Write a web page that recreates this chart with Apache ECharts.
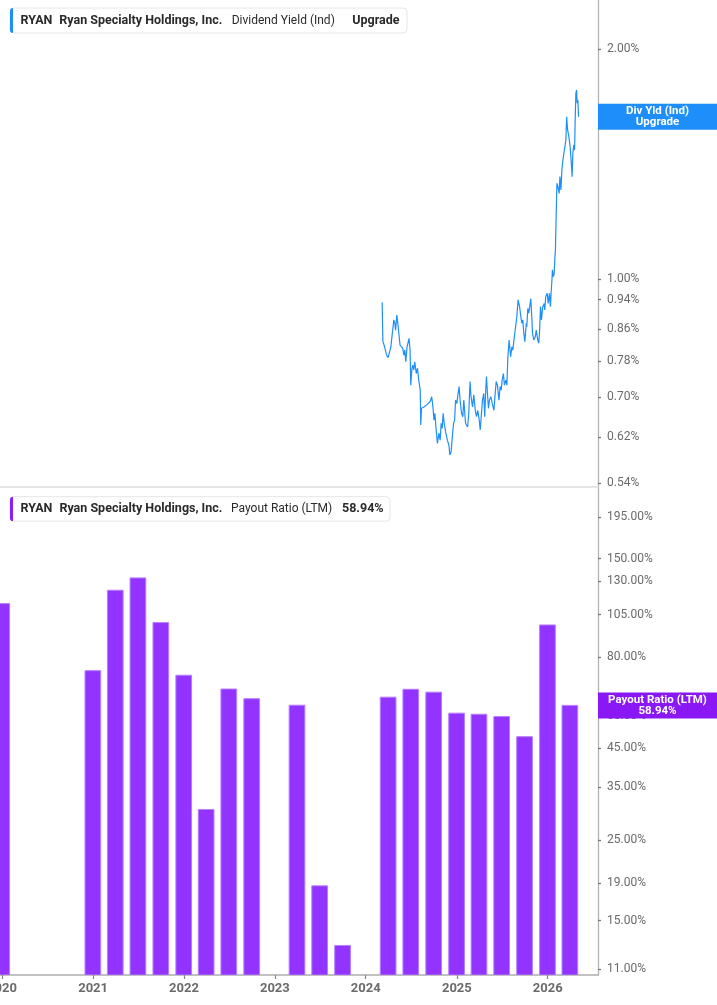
<!DOCTYPE html>
<html><head><meta charset="utf-8">
<script src="https://cdn.jsdelivr.net/npm/echarts@6/dist/echarts.min.js"></script>
<style>html,body{margin:0;padding:0;background:#fff}#c{width:717px;height:1005px}</style>
</head><body><div id="c"></div>
<script>
// ---- Data ----
const yieldDates = ['2024-03-07','2024-03-10','2024-03-15','2024-03-20','2024-03-25','2024-03-31','2024-04-05','2024-04-11','2024-04-16','2024-04-23','2024-04-27','2024-04-30','2024-05-05','2024-05-09','2024-05-13','2024-05-18','2024-05-24','2024-05-29','2024-06-02','2024-06-06','2024-06-10','2024-06-15','2024-06-23','2024-06-27','2024-06-30','2024-07-04','2024-07-08','2024-07-12','2024-07-16','2024-07-22','2024-07-27','2024-08-01','2024-08-07','2024-08-09','2024-08-12','2024-08-17','2024-08-23','2024-08-28','2024-09-02','2024-09-09','2024-09-16','2024-09-22','2024-09-27','2024-10-01','2024-10-05','2024-10-09','2024-10-15','2024-10-21','2024-10-26','2024-10-30','2024-11-03','2024-11-07','2024-11-12','2024-11-18','2024-11-24','2024-11-30','2024-12-04','2024-12-09','2024-12-15','2024-12-19','2024-12-23','2024-12-27','2025-01-01','2025-01-06','2025-01-10','2025-01-14','2025-01-20','2025-01-25','2025-01-29','2025-02-05','2025-02-13','2025-02-18','2025-02-21','2025-02-23','2025-02-27','2025-03-05','2025-03-10','2025-03-16','2025-03-21','2025-03-26','2025-04-01','2025-04-05','2025-04-10','2025-04-14','2025-04-19','2025-04-23','2025-04-27','2025-04-30','2025-05-04','2025-05-08','2025-05-12','2025-05-18','2025-05-23','2025-05-30','2025-06-03','2025-06-08','2025-06-13','2025-06-19','2025-06-24','2025-06-28','2025-07-02','2025-07-07','2025-07-11','2025-07-17','2025-07-21','2025-07-25','2025-07-30','2025-08-05','2025-08-10','2025-08-14','2025-08-19','2025-08-25','2025-08-30','2025-09-04','2025-09-10','2025-09-15','2025-09-19','2025-09-23','2025-09-27','2025-10-01','2025-10-07','2025-10-09','2025-10-13','2025-10-17','2025-10-25','2025-10-29','2025-11-01','2025-11-06','2025-11-12','2025-11-16','2025-11-22','2025-11-26','2025-11-29','2025-12-03','2025-12-07','2025-12-12','2025-12-18','2025-12-20','2025-12-24','2025-12-30','2026-01-03','2026-01-08','2026-01-12','2026-01-15','2026-01-18','2026-01-20','2026-01-24','2026-01-27','2026-01-30','2026-02-01','2026-02-05','2026-02-07','2026-02-11','2026-02-16','2026-02-19','2026-02-23','2026-02-27','2026-03-03','2026-03-07','2026-03-11','2026-03-15','2026-03-18','2026-03-22','2026-03-27','2026-04-01','2026-04-05','2026-04-09','2026-04-12','2026-04-16','2026-04-19','2026-04-21','2026-04-24','2026-04-27','2026-04-29','2026-05-02','2026-05-05'];
const yieldValues = [0.932,0.828,0.819,0.815,0.795,0.789,0.793,0.815,0.844,0.884,0.875,0.857,0.897,0.875,0.849,0.819,0.815,0.811,0.795,0.807,0.779,0.815,0.836,0.807,0.726,0.760,0.771,0.760,0.779,0.752,0.764,0.737,0.715,0.644,0.677,0.673,0.680,0.680,0.684,0.687,0.691,0.701,0.680,0.653,0.667,0.640,0.609,0.628,0.615,0.647,0.637,0.667,0.644,0.628,0.615,0.606,0.588,0.594,0.628,0.647,0.653,0.694,0.687,0.708,0.723,0.694,0.667,0.660,0.694,0.647,0.640,0.667,0.708,0.734,0.701,0.680,0.705,0.673,0.660,0.673,0.653,0.634,0.667,0.694,0.708,0.660,0.715,0.745,0.708,0.677,0.694,0.701,0.687,0.673,0.701,0.734,0.726,0.694,0.723,0.715,0.737,0.752,0.726,0.737,0.726,0.791,0.832,0.791,0.815,0.807,0.836,0.866,0.893,0.939,0.920,0.893,0.875,0.884,0.849,0.828,0.875,0.866,0.915,0.902,0.943,0.893,0.849,0.832,0.840,0.857,0.832,0.824,0.849,0.920,0.884,0.920,0.929,0.911,0.948,0.958,0.929,0.958,0.920,0.963,0.997,1.028,1.007,1.017,1.070,1.091,1.257,1.335,1.321,1.295,1.362,1.308,1.390,1.432,1.439,1.491,1.521,1.632,1.568,1.537,1.491,1.432,1.362,1.461,1.499,1.476,1.600,1.751,1.769,1.700,1.717,1.632];

const payoutDates = ['2019-12-31','2020-12-31','2021-03-31','2021-06-30','2021-09-30','2021-12-31','2022-03-31','2022-06-30','2022-09-30','2023-03-31','2023-06-30','2023-09-30','2024-03-31','2024-06-30','2024-09-30','2024-12-31','2025-03-31','2025-06-30','2025-09-30','2025-12-31','2026-03-31'];
const payoutValues = [112.6,73.5,122.6,132.6,99.8,71.4,30.4,65.4,61.5,59.0,18.7,12.8,62.1,65.3,64.1,56.1,55.7,54.9,48.3,98.3,58.94];

const yieldTicks = [0.54,0.62,0.70,0.78,0.86,0.94,1.00,2.00];
const payoutTicks = [11,15,19,25,35,45,55,80,105,130,150,195];
const yearTicks = ['2020-01-01','2021-01-01','2022-01-01','2023-01-01','2024-01-01','2025-01-01','2026-01-01'];

const headerTop = ['RYAN','Ryan Specialty Holdings, Inc.','Dividend Yield (Ind)','Upgrade'];
const headerBottom = ['RYAN','Ryan Specialty Holdings, Inc.','Payout Ratio (LTM)','58.94%'];

// ---- Chart ----
const BLUE = '#1e8ffa', PURPLE = '#9333ff', PURPLE_TAG = '#8a18f5';
const toTs = s => { const p = s.split('-').map(Number); return Date.UTC(p[0], p[1]-1, p[2]); };
const yearTs = yearTicks.map(toTs);
const xMin = toTs('2019-12-24'), xMax = toTs('2026-07-22');
const axisFont = 'Roboto';
const BAR_W = 15.7;

function yAxisCfg(grid, min, max, ticks) {
  return {
    type: 'log', logBase: 10, gridIndex: grid, position: 'right', min: min, max: max,
    axisLine: {show: true, onZero: false, lineStyle: {color: '#b3b3b3', width: 1.3}},
    axisTick: {show: true, length: 3, customValues: ticks, lineStyle: {color: '#777', width: 1.3}},
    axisLabel: {show: true, customValues: ticks, margin: 9, color: '#6a6a6a', fontFamily: axisFont, fontSize: 12,
      formatter: v => Number(v).toFixed(2) + '%'},
    splitLine: {show: false}
  };
}

function xAxisCfg(grid, main) {
  return {
    type: 'value', gridIndex: grid, min: xMin, max: xMax, scale: true,
    axisLine: {show: true, onZero: false, lineStyle: main ? {color: '#adadad', width: 1.5} : {color: '#dedede', width: 1.5}},
    axisTick: {show: main, length: 4, customValues: yearTs, lineStyle: {color: '#888', width: 1.2}},
    axisLabel: {show: main, customValues: yearTs, margin: 7, align: 'center', color: '#6b6b6b', fontFamily: axisFont, fontSize: 13, fontWeight: 'bold',
      formatter: v => String(new Date(v).getUTCFullYear())},
    splitLine: {show: false}
  };
}

const option = {
  animation: false,
  backgroundColor: '#fff',
  grid: [
    {left: 0, right: 119, top: 0, height: 487, containLabel: false, outerBoundsMode: 'none'},
    {left: 0, right: 119, top: 487, height: 488, containLabel: false, outerBoundsMode: 'none'}
  ],
  xAxis: [xAxisCfg(0, false), xAxisCfg(1, true)],
  yAxis: [
    yAxisCfg(0, 0.5339, 2.321, yieldTicks),
    yAxisCfg(1, 10.608, 236.4, payoutTicks)
  ],
  series: [
    {type: 'line', xAxisIndex: 0, yAxisIndex: 0, showSymbol: false, symbol: 'none',
     lineStyle: {color: BLUE, width: 1.2}, itemStyle: {color: BLUE},
     data: yieldDates.map((d, i) => [toTs(d), yieldValues[i]])},
    {type: 'custom', xAxisIndex: 1, yAxisIndex: 1, clip: true,
     encode: {x: 0, y: 1},
     renderItem: function (params, api) {
       const top = api.coord([api.value(0), api.value(1)]);
       const cs = params.coordSys;
       const bottom = cs.y + cs.height;
       return {type: 'rect',
         shape: {x: top[0] - BAR_W / 2, y: top[1], width: BAR_W, height: bottom - top[1]},
         style: {fill: PURPLE, stroke: '#b47fff', lineWidth: 1}};
     },
     data: payoutDates.map((d, i) => [toTs(d), payoutValues[i]])}
  ]
};

const chart = echarts.init(document.getElementById('c'));
chart.setOption(option);

function header(y, h, color, texts, xs, bold, boxW) {
  const els = [
    {type: 'rect', shape: {x: 10, y: y, width: boxW, height: h, r: 4}, style: {fill: '#fff', stroke: '#e6e6e6', lineWidth: 1}, z: 100},
    {type: 'rect', shape: {x: 10, y: y, width: 3, height: h, r: [3, 0, 0, 3]}, style: {fill: color}, z: 101}
  ];
  texts.forEach((t, i) => {
    els.push({type: 'text', x: xs[i], y: y + h / 2, z: 102,
      style: {text: t, fill: '#2a2a2a', font: (bold[i] ? 'bold 12.5px ' : '12px ') + 'Roboto', verticalAlign: 'middle', align: 'left'}});
  });
  return els;
}

function tag(cy, color, text) {
  return [
    {type: 'rect', shape: {x: 598, y: cy - 13, width: 125, height: 26}, style: {fill: color}, z: 110},
    {type: 'text', x: 657.5, y: cy, z: 111,
     style: {text: text, fill: '#fff', font: 'bold 11.5px Roboto', align: 'center', verticalAlign: 'middle', lineHeight: 10.5}}
  ];
}

const lastYieldPx = chart.convertToPixel({xAxisIndex: 0, yAxisIndex: 0}, [toTs(yieldDates[yieldDates.length - 1]), yieldValues[yieldValues.length - 1]]);
const lastPayoutPx = chart.convertToPixel({xAxisIndex: 1, yAxisIndex: 1}, [toTs(payoutDates[payoutDates.length - 1]), payoutValues[payoutValues.length - 1]]);

chart.setOption({
  graphic: [].concat(
    header(8, 25, BLUE, headerTop, [20.5, 59.3, 231.7, 352.3], [true, true, false, true], 397),
    header(496.7, 24.5, '#8a20f7', headerBottom, [20.5, 59.4, 231, 342], [true, true, false, true], 380),
    tag(lastYieldPx[1], BLUE, 'Div Yld (Ind)\nUpgrade'),
    tag(lastPayoutPx[1], PURPLE_TAG, 'Payout Ratio (LTM)\n' + payoutValues[payoutValues.length - 1].toFixed(2) + '%')
  )
});
</script>
</body></html>
